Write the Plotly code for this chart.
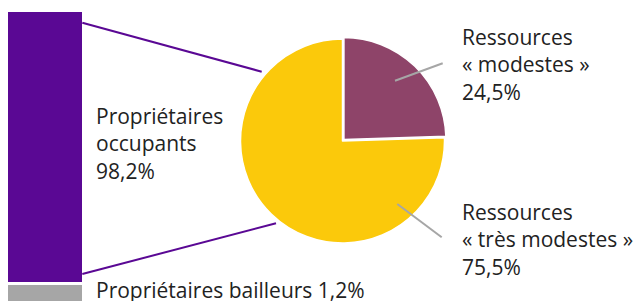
import plotly.graph_objects as go

W, H = 639, 301

# ---- data ----
bar_categories = ["Propriétaires occupants", "Propriétaires bailleurs"]
bar_values = [98.2, 1.2]
bar_colors = ["#5A0894", "#A6A6A6"]

pie_labels = ["Ressources « modestes »", "Ressources « très modestes »"]
pie_values = [24.5, 75.5]
pie_colors = ["#8E4469", "#FBC90B"]

def px(x):
    return x / W

def py(y):
    return 1 - y / H

FONT = "Open Sans"
TXT = "#222222"

fig = go.Figure()

# stacked bar (two segments on separate vertical scales, as in the original)
fig.add_trace(go.Bar(x=[0], y=[bar_values[0]], width=1, marker_color=bar_colors[0],
                     marker_line_width=0, xaxis="x", yaxis="y", hoverinfo="skip",
                     name=bar_categories[0]))
fig.add_trace(go.Bar(x=[0], y=[bar_values[1]], width=1, marker_color=bar_colors[1],
                     marker_line_width=0, xaxis="x", yaxis="y2", hoverinfo="skip",
                     name=bar_categories[1]))

pull = 0.02
cx, cy, r = 342.5, 141, 102
half = r * (1 + pull)
fig.add_trace(go.Pie(
    labels=pie_labels, values=pie_values, sort=False, direction="clockwise",
    rotation=0, textinfo="none", hoverinfo="skip",
    marker=dict(colors=pie_colors, line=dict(color="white", width=1.5)),
    pull=[pull, 0],
    domain=dict(x=[px(cx - half), px(cx + half)], y=[py(cy + half), py(cy - half)]),
))

axis_common = dict(showgrid=False, zeroline=False, showticklabels=False, showline=False, ticks="")
fig.update_layout(
    width=W, height=H, margin=dict(l=0, r=0, t=0, b=0),
    paper_bgcolor="white", plot_bgcolor="rgba(0,0,0,0)",
    showlegend=False, bargap=0,
    xaxis=dict(domain=[px(8), px(82.3)], range=[-0.5, 0.5], fixedrange=True, **axis_common),
    yaxis=dict(domain=[py(282), py(11.7)], range=[0, bar_values[0]], anchor="x", **axis_common),
    yaxis2=dict(domain=[0, py(285)], range=[0, bar_values[1]], anchor="x", **axis_common),
    font=dict(family=FONT, color=TXT),
)

# connector lines bar -> pie
shapes = [
    dict(type="line", xref="paper", yref="paper", x0=px(82.3), y0=py(22.7), x1=px(261.7), y1=py(71.7),
         line=dict(color=bar_colors[0], width=2)),
    dict(type="line", xref="paper", yref="paper", x0=px(82.3), y0=py(274), x1=px(276), y1=py(223.3),
         line=dict(color=bar_colors[0], width=2)),
    dict(type="line", xref="paper", yref="paper", x0=px(395), y0=py(80.7), x1=px(442.7), y1=py(63.3),
         line=dict(color="#A6A6A6", width=2)),
    dict(type="line", xref="paper", yref="paper", x0=px(397.3), y0=py(204), x1=px(441.7), y1=py(237.3),
         line=dict(color="#A6A6A6", width=2)),
]
fig.update_layout(shapes=shapes)

FS = 21
def ann(x, y, text):
    return dict(xref="paper", yref="paper", x=px(x), y=py(y), text=text, showarrow=False,
                xanchor="left", yanchor="middle", align="left",
                font=dict(family=FONT, size=FS, color=TXT))

fig.update_layout(annotations=[
    ann(94, 143, "Propriétaires<br>occupants<br>" + "98,2%"),
    ann(94, 290, "Propriétaires bailleurs 1,2%"),
    ann(460, 65, "Ressources<br>« modestes »<br>24,5%"),
    ann(460, 239, "Ressources<br>« très modestes »<br>75,5%"),
])

fig.write_html("out.html", config={"displayModeBar": False, "staticPlot": True},
               post_script="document.body.style.margin='0';document.body.style.overflow='hidden';")
